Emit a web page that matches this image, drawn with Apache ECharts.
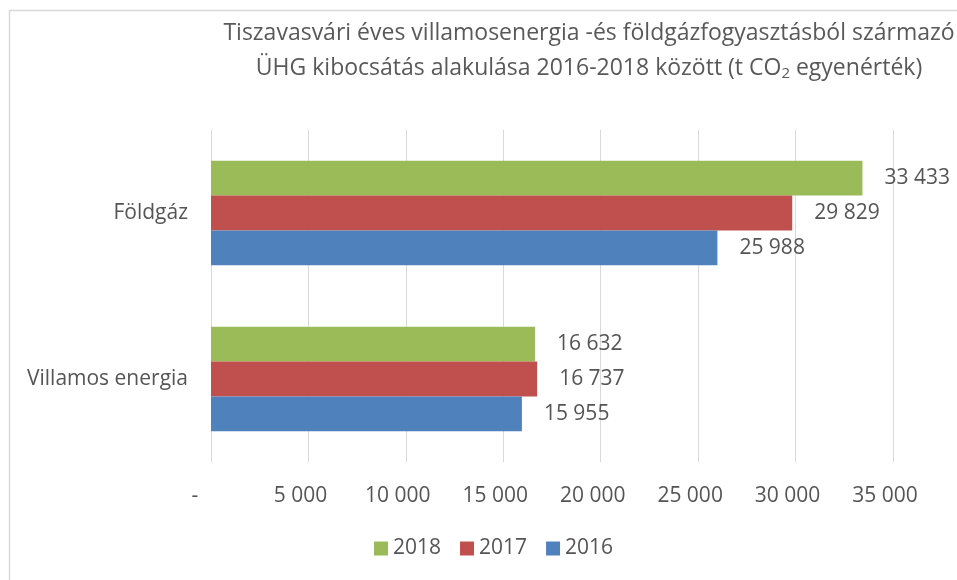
<!DOCTYPE html>
<html>
<head>
<meta charset="utf-8">
<script src="https://cdn.jsdelivr.net/npm/echarts@6/dist/echarts.min.js"></script>
<style>
  html, body { margin: 0; padding: 0; background: #fff; }
  #chart { width: 957px; height: 580px; }
</style>
</head>
<body>
<div id="chart"></div>
<script>
const categories = ['Villamos energia', 'Földgáz'];
const years = ['2018', '2017', '2016'];
const values2016 = [15955, 25988];
const values2017 = [16737, 29829];
const values2018 = [16632, 33433];
const colors = { '2016': '#4f81bd', '2017': '#c0504d', '2018': '#9bbb59' };

const font = 'Open Sans';
const textColor = '#555555';

function fmt(v) {
  return String(v).replace(/\B(?=(\d{3})+(?!\d))/g, ' ');
}

const chart = echarts.init(document.getElementById('chart'));

const seriesData = { '2016': values2016, '2017': values2017, '2018': values2018 };

chart.setOption({
  animation: false,
  textStyle: { fontFamily: font },
  graphic: [{
    type: 'rect',
    shape: { x: 9.5, y: 10.5, width: 1000, height: 700 },
    style: { fill: 'none', stroke: '#d9d9d9', lineWidth: 1.5 },
    silent: true
  }],
  title: {
    text: 'Tiszavasvári éves villamosenergia -és földgázfogyasztásból származó\nÜHG kibocsátás alakulása 2016-2018 között (t CO{sub|2} egyenérték)',
    left: 584,
    top: 11,
    textAlign: 'center',
    textStyle: {
      fontFamily: font,
      fontSize: 23,
      fontWeight: 'normal',
      color: '#595959',
      lineHeight: 35,
      rich: {
        sub: { fontSize: 15, fontFamily: font, color: '#595959', padding: [11, 0, 0, 0], lineHeight: 35 }
      }
    }
  },
  legend: {
    data: ['2018', '2017', '2016'],
    bottom: 16,
    left: 369,
    icon: 'rect',
    itemWidth: 14,
    itemHeight: 14,
    itemGap: 19,
    textStyle: { fontFamily: font, fontSize: 21, color: textColor }
  },
  grid: { left: 211, right: 64, top: 130, bottom: 118 },
  xAxis: {
    type: 'value',
    min: 0,
    max: 35000,
    interval: 5000,
    axisLine: { show: false },
    axisTick: { show: false },
    splitLine: { lineStyle: { color: '#d9d9d9', width: 1 } },
    axisLabel: {
      formatter: v => (v === 0 ? '{dash|-}' : fmt(v)),
      fontFamily: font,
      fontSize: 21,
      color: textColor,
      margin: 24,
      padding: [0, 16, 0, 0],
      rich: { dash: { fontFamily: font, fontSize: 21, color: textColor, padding: [0, 16, 0, 0] } }
    }
  },
  yAxis: {
    type: 'category',
    data: categories,
    axisLine: { show: false },
    axisTick: { show: false },
    axisLabel: { fontFamily: font, fontSize: 21, color: textColor, margin: 23 }
  },
  series: years.map(y => ({
    name: y,
    type: 'bar',
    data: seriesData[y],
    barGap: '0%',
    barCategoryGap: '37%',
    itemStyle: { color: colors[y] },
    label: {
      show: true,
      position: 'right',
      distance: 22,
      formatter: p => fmt(p.value),
      fontFamily: font,
      fontSize: 21,
      color: textColor
    }
  }))
});

window.addEventListener('resize', chart.resize);
</script>
</body>
</html>
